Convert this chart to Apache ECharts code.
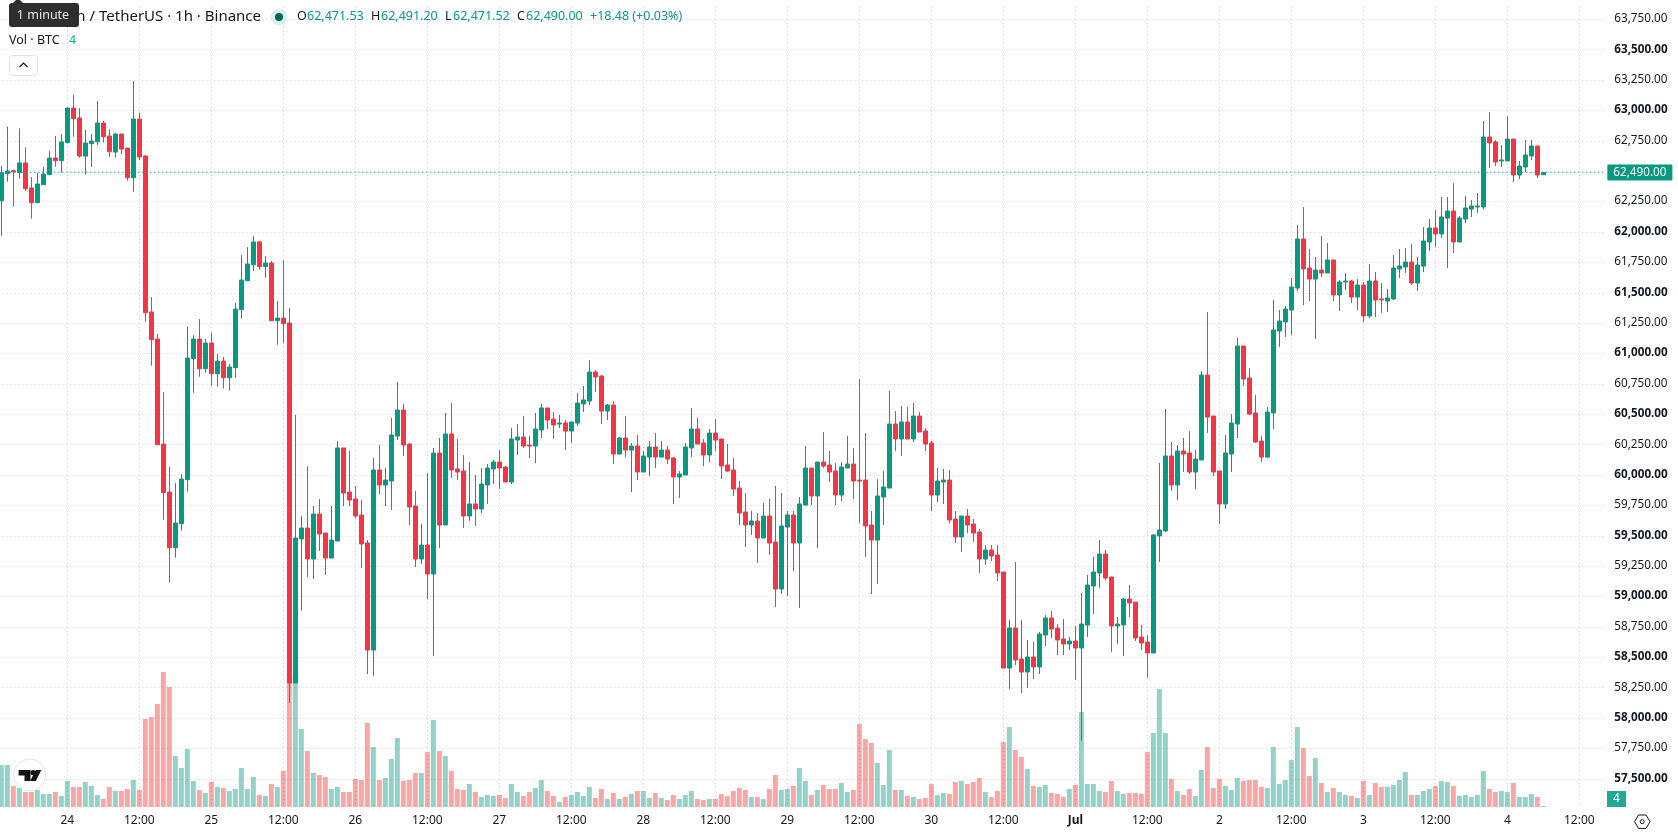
<!DOCTYPE html>
<html>
<head>
<meta charset="utf-8">
<title>Bitcoin / TetherUS · 1h · Binance</title>
<style>
  html, body { margin: 0; padding: 0; background: #fff; }
  #chart { width: 1678px; height: 835px; }
</style>
<script src="https://cdn.jsdelivr.net/npm/echarts@6/dist/echarts.min.js"></script>
</head>
<body>
<div id="chart"></div>
<script>
// Hourly BTC/USDT candles, oldest first.
const opens = [
62258,62480,62505,62488,62568,62362,62241,62389,62472,62609,
62587,62735,63020,62938,62625,62727,62743,62897,62790,62658,
62806,62691,62447,62930,62625,61342,61119,60255,59860,59402,
59600,59962,60958,61119,60875,61086,60834,60938,60801,60884,
61361,61599,61731,61918,61715,61745,61270,61292,61251,58289,
59474,59564,59309,59679,59523,59317,59457,60223,59860,59803,
59671,59441,58560,60042,59918,59951,60321,60535,60255,59745,
59309,59424,59186,60181,59589,60338,60050,60033,59663,59762,
59721,59918,60050,60107,60066,59943,60288,60313,60247,60239,
60371,60552,60461,60420,60428,60362,60428,60585,60609,60848,
60815,60527,60576,60173,60305,60206,60239,60025,60148,60231,
60148,60206,60140,59984,60000,60223,60379,60264,60165,60346,
60297,60083,60042,59893,59696,59589,59622,59482,59663,59449,
59062,59572,59671,59441,59753,60058,59828,60107,60083,60033,
59836,60058,60091,59959,59959,59589,59465,59819,59893,60420,
60297,60437,60297,60486,60363,60264,59836,59943,59959,59638,
59490,59663,59597,59531,59309,59383,59342,59202,58412,58741,
58486,58379,58503,58421,58684,58824,58741,58651,58610,58634,
58577,58766,59087,59194,59350,59161,58758,58766,58980,58955,
58667,58626,58536,59499,59540,60157,59918,60198,60182,60025,
60124,60823,60486,60033,59762,60173,60420,61062,60799,60511,
60280,60148,60511,61185,61260,61358,61539,61943,61704,61613,
61687,61663,61770,61482,61589,61597,61465,61564,61309,61597,
61449,61432,61449,61696,61712,61753,61580,61720,61918,62033,
61984,62115,62173,61918,62107,62189,62206,62206,62782,62741,
62585,62585,62765,62469,62535,62626,62708,62471.53];

const closes = [
62488,62502,62496,62568,62356,62241,62395,62477,62609,62587,
62741,63020,62933,62625,62732,62749,62897,62784,62661,62806,
62683,62447,62930,62617,61336,61114,60250,59855,59402,59605,
59967,60963,61119,60875,61086,60834,60938,60801,60889,61366,
61605,61737,61918,61715,61745,61270,61292,61246,58289,59482,
59564,59309,59679,59515,59317,59465,60223,59852,59795,59663,
59433,58560,60042,59918,59959,60330,60535,60247,59737,59309,
59424,59186,60181,59589,60338,60042,60025,59663,59762,59721,
59926,60058,60107,60058,59943,60297,60313,60239,60239,60379,
60552,60453,60412,60428,60362,60437,60593,60618,60848,60807,
60527,60576,60173,60305,60206,60239,60025,60157,60231,60148,
60206,60132,59984,60009,60231,60379,60255,60165,60346,60288,
60074,60033,59885,59688,59589,59622,59482,59663,59441,59062,
59581,59671,59441,59762,60058,59828,60107,60074,60025,59836,
60066,60091,59951,59951,59581,59465,59828,59902,60420,60297,
60437,60297,60486,60354,60256,59836,59951,59959,59630,59490,
59663,59589,59523,59309,59383,59334,59194,58412,58741,58478,
58379,58503,58421,58692,58824,58733,58643,58610,58634,58577,
58774,59095,59202,59350,59153,58758,58774,58980,58947,58659,
58618,58536,59507,59548,60157,59918,60198,60173,60025,60132,
60823,60478,60025,59762,60182,60428,61062,60790,60502,60272,
60148,60519,61194,61268,61366,61548,61943,61696,61613,61687,
61663,61770,61482,61589,61597,61465,61564,61309,61597,61441,
61441,61457,61704,61720,61753,61580,61729,61926,62033,61984,
62124,62173,61918,62115,62198,62214,62214,62782,62733,62576,
62593,62765,62469,62543,62634,62708,62469,62490];

const highs = [
62543,62867,62513,62853,62697,62452,62488,62535,62666,62790,
62806,63026,63127,63020,62839,62806,63078,62913,62845,62817,
62806,62691,63242,62982,62634,61465,61161,60683,60069,59934,
60008,61221,61150,61284,61119,61171,60996,60971,60914,61416,
61811,61876,61967,61926,61802,61761,61432,61769,61375,60494,
59663,60074,59745,59803,59523,59745,60280,60223,60198,59910,
59795,59465,60140,60247,60058,60470,60766,60585,60264,59869,
59597,60017,60223,60305,60511,60593,60297,60165,60107,60000,
60058,60091,60124,60206,60074,60387,60420,60486,60321,60511,
60585,60552,60519,60494,60453,60437,60675,60733,60947,60864,
60823,60585,60609,60313,60486,60264,60330,60198,60280,60346,
60280,60239,60148,60033,60264,60552,60469,60297,60379,60461,
60297,60255,60140,59951,59852,59704,59688,59770,59803,59910,
59852,59704,59704,59819,60239,60058,60107,60354,60198,60099,
60107,60321,60222,60790,60346,59704,59967,60033,60692,60527,
60568,60560,60593,60519,60387,60280,60058,60050,60042,59704,
59663,59721,59638,59556,59424,59424,59424,59202,58807,59285,
58807,58643,58626,58709,58848,58881,58774,58815,58667,58758,
59030,59178,59326,59466,59383,59161,58832,58988,59095,58955,
58766,58684,59515,60099,60544,60272,60247,60305,60363,60206,
60856,61342,60486,60033,60330,60502,61128,61062,60881,60659,
60321,60560,61441,61358,61391,61622,62058,62206,61860,61794,
61967,61910,61770,61605,61663,61605,61613,61589,61737,61671,
61580,61531,61811,61860,61868,61901,61794,62041,62107,62181,
62288,62288,62403,62132,62296,62263,62321,62914,62988,62757,
62716,62955,62765,62584,62757,62757,62708,62491.20];

const lows = [
61970,62414,62208,62439,62340,62110,62241,62389,62472,62538,
62488,62735,62784,62612,62472,62535,62716,62735,62620,62612,
62642,62422,62332,62592,61262,60900,60250,59633,59114,59320,
59542,59863,60678,60809,60842,60735,60727,60711,60694,60801,
61287,61599,61679,61690,61624,61270,61073,61089,58124,58289,
58884,59161,59145,59375,59177,59317,59457,59745,59745,59647,
59235,58363,58346,59844,59745,59712,60288,60157,59589,59243,
59268,58980,58511,59400,59589,59976,59959,59564,59622,59581,
59688,59762,59926,59885,59943,59926,60165,60223,60140,60099,
60305,60379,60297,60387,60206,60264,60404,60519,60576,60683,
60420,60453,60091,60173,60148,59860,59959,60025,59992,60058,
60148,60091,59762,59811,60000,60148,60255,60074,60107,60198,
59967,60025,59828,59589,59408,59507,59276,59482,59342,58914,
59021,59005,59210,58906,59753,59753,59400,60058,59943,59753,
59786,60058,59803,59605,59326,59021,59103,59589,59893,60198,
60157,60297,60272,60354,60198,59704,59778,59762,59606,59441,
59367,59523,59449,59194,59260,59293,59128,58412,58240,58437,
58207,58248,58322,58363,58593,58659,58519,58519,58560,58314,
57814,58667,58857,59071,59136,58544,58610,58511,58832,58634,
58560,58330,58536,59285,59531,59869,59795,60025,60009,59885,
60124,60346,59992,59597,59721,60025,60305,60733,60494,60264,
60107,60140,60379,61054,61136,61153,61515,61399,61432,61120,
61630,61663,61432,61350,61523,61416,61358,61259,61292,61301,
61334,61342,61441,61622,61663,61564,61515,61671,61844,61877,
61951,61704,61827,61918,62074,62124,62157,62189,62527,62543,
62535,62585,62412,62436,62494,62593,62445,62471.52];

// Traded volume per hour, in BTC.
const volumes = [
168,168,84,76,60,60,68,52,52,60,44,104,80,80,100,84,48,32,80,64,
64,72,108,68,352,360,412,540,480,204,156,232,104,68,56,100,80,76,64,72,
156,72,120,48,44,92,80,144,528,520,312,224,136,128,120,72,80,60,60,112,
108,336,240,108,116,192,276,104,108,136,136,220,348,224,204,144,72,68,92,60,
40,48,44,48,36,92,60,44,60,76,108,64,44,20,40,48,60,44,80,36,
72,32,56,32,40,52,64,64,36,56,36,28,48,32,48,64,32,28,32,32,
52,44,64,76,68,40,40,32,72,128,68,72,84,156,104,48,68,88,72,72,
96,60,68,332,272,256,176,88,228,68,68,44,40,32,36,92,48,56,52,100,
104,92,100,116,60,40,64,260,320,228,200,152,84,80,88,56,52,40,72,88,
380,92,92,64,60,104,64,52,56,56,52,220,296,472,296,112,64,48,72,44,
148,240,76,112,84,68,116,104,108,108,80,76,240,92,108,188,320,236,124,196,
96,60,76,60,48,44,36,104,48,96,80,80,88,108,140,48,48,64,72,84,
104,100,84,44,48,40,48,144,72,60,64,60,96,40,40,52,40,4];

// Labels along the time axis, one every twelve bars starting at the "24" bar.
const timeLabels = ['24','12:00','25','12:00','26','12:00','27','12:00','28','12:00','29','12:00',
  '30','12:00','Jul','12:00','2','12:00','3','12:00','4','12:00'];
const firstLabelBar = 11;
const barsPerLabel = 12;
const slotCount = 268; // visible bars plus the empty space on the right

const lastClose = closes[closes.length - 1];
const lastChange = '+18.48 (+0.03%)';

const UP = '#089981', DOWN = '#F23645';
const UP_VOL = 'rgba(8,153,129,0.44)', DOWN_VOL = 'rgba(236,48,42,0.42)';
const GRID = '#cdd0d6';
const DOTS = [1, 3];
const FONT = '"Noto Sans", sans-serif';
const TEXT = '#131722';

const categories = [];
for (let i = 0; i < slotCount; i++) {
  const t = (i - firstLabelBar) / barsPerLabel;
  categories.push(Number.isInteger(t) && t >= 0 && t < timeLabels.length ? timeLabels[t] : '');
}
const isLabelled = (i) => i >= firstLabelBar && (i - firstLabelBar) % barsPerLabel === 0;

const candles = opens.map((o, i) => [o, closes[i], lows[i], highs[i]]);
const volumeBars = volumes.map((v, i) => ({
  value: v,
  itemStyle: { color: closes[i] >= opens[i] ? UP_VOL : DOWN_VOL }
}));

const chart = echarts.init(document.getElementById('chart'), null, { renderer: 'canvas' });

const money = (v) => v.toLocaleString('en-US', { minimumFractionDigits: 2, maximumFractionDigits: 2 });

const headerText = (text, x, y, fill, size, align) => ({
  type: 'text', z: 50, silent: true,
  style: { text, x, y, fill, font: (size || 14) + 'px ' + FONT, verticalAlign: 'middle', align: align || 'left' }
});

const o = opens[opens.length - 1], c = lastClose, h = highs[highs.length - 1], l = lows[lows.length - 1];

const option = {
  animation: false,
  backgroundColor: '#ffffff',
  grid: [
    { left: -1.67, width: 1608, top: -11.02, height: 820.26, outerBoundsMode: 'none' },
    { left: -1.67, width: 1608, top: 7, height: 800, outerBoundsMode: 'none' }
  ],
  xAxis: [
    { type: 'category', gridIndex: 0, data: categories, show: false },
    {
      type: 'category', gridIndex: 1, data: categories,
      axisLine: { show: false }, axisTick: { show: false },
      axisLabel: {
        interval: (i) => isLabelled(i), margin: 8, fontSize: 12, color: TEXT, fontFamily: FONT,
        hideOverlap: false,
        formatter: (v) => v === 'Jul' ? '{b|Jul}' : v,
        rich: { b: { fontWeight: 700, fontSize: 12, color: TEXT, fontFamily: FONT } }
      },
      splitLine: {
        show: true, alignWithLabel: true, interval: (i) => isLabelled(i),
        lineStyle: { color: GRID, type: DOTS, width: 1 }
      }
    }
  ],
  yAxis: [
    {
      type: 'value', gridIndex: 0, position: 'right', min: 57250, max: 64000, interval: 250,
      axisLine: { show: false }, axisTick: { show: false },
      axisLabel: {
        margin: 8, fontSize: 11.7, color: TEXT, fontFamily: FONT, padding: [0, 0, 1, 0],
        formatter: (v) => {
          if (v <= 57250 || v >= 64000 || Math.abs(v - lastClose) < 60) return '';
          return v % 500 === 0 ? '{b|' + money(v) + '}' : money(v);
        },
        rich: { b: { fontWeight: 700, fontSize: 11.7, color: TEXT, fontFamily: FONT } }
      },
      splitLine: { show: true, showMinLine: false, showMaxLine: false, lineStyle: { color: GRID, type: DOTS, width: 1 } }
    },
    { type: 'value', gridIndex: 1, min: 0, max: 3200, show: false }
  ],
  series: [
    {
      name: 'Vol', type: 'bar', xAxisIndex: 1, yAxisIndex: 1, data: volumeBars,
      barWidth: 5, z: 1, silent: true
    },
    {
      name: 'BTC/USDT', type: 'candlestick', xAxisIndex: 0, yAxisIndex: 0, data: candles,
      barWidth: 4, z: 3, silent: true,
      itemStyle: { color: UP, color0: DOWN, borderColor: UP, borderColor0: DOWN, borderWidth: 1 },
      markLine: {
        silent: true, symbol: 'none', z: 4, animation: false,
        lineStyle: { color: UP, type: DOTS, width: 1 },
        label: {
          position: 'end', distance: 1, formatter: () => money(lastClose),
          color: '#fff', backgroundColor: UP, fontSize: 11.7, fontFamily: FONT,
          padding: [2, 6, 2, 6], borderRadius: 1
        },
        data: [{ yAxis: lastClose }]
      }
    }
  ],
  graphic: [
    // legend line
    headerText('Bitcoin / TetherUS · 1h · Binance', 261, 16.5, TEXT, 15, 'right'),
    { type: 'circle', z: 50, silent: true, shape: { cx: 279, cy: 17, r: 8.5 }, style: { fill: '#dcefeb' } },
    { type: 'circle', z: 51, silent: true, shape: { cx: 279, cy: 17, r: 4 }, style: { fill: '#056656' } },
    headerText('O', 297, 16.5, TEXT, 12.5),
    headerText(money(o), 307, 16.5, UP, 12.5),
    headerText('H', 371, 16.5, TEXT, 12.5),
    headerText(money(h), 381, 16.5, UP, 12.5),
    headerText('L', 445, 16.5, TEXT, 12.5),
    headerText(money(l), 453, 16.5, UP, 12.5),
    headerText('C', 517, 16.5, TEXT, 12.5),
    headerText(money(c), 526, 16.5, UP, 12.5),
    headerText(lastChange, 590, 16.5, UP, 12.5),
    headerText('Vol · BTC', 9, 40.5, TEXT, 12.5),
    headerText(String(volumes[volumes.length - 1]), 69, 40.5, '#22ab94', 12.5),

    // hovering hint over the symbol name
    { type: 'rect', z: 60, silent: true, shape: { x: 9, y: 3, width: 70, height: 24, r: 3 }, style: { fill: '#2e2e2e' } },
    { type: 'polygon', z: 60, silent: true, shape: { points: [[13, 3], [18, -2], [23, 3]] }, style: { fill: '#2e2e2e' } },
    { type: 'text', z: 61, silent: true, style: { text: '1 minute', x: 43, y: 15.5, fill: '#e8e8e8', font: '12.5px ' + FONT, align: 'center', verticalAlign: 'middle' } },

    // collapse button
    { type: 'rect', z: 50, silent: true, shape: { x: 9.5, y: 55.5, width: 28, height: 20, r: 3 }, style: { fill: '#fff', stroke: '#e0e3eb', lineWidth: 1 } },
    { type: 'polyline', z: 51, silent: true, shape: { points: [[19.5, 67], [23.5, 63], [27.5, 67]] }, style: { stroke: '#131722', lineWidth: 1.2, fill: 'none' } },

    // volume value tag on the scale
    { type: 'rect', z: 50, silent: true, shape: { x: 1607, y: 791, width: 19, height: 16 }, style: { fill: '#22a896' } },
    { type: 'text', z: 51, silent: true, style: { text: String(volumes[volumes.length - 1]), x: 1616.5, y: 799, fill: '#fff', font: '12px ' + FONT, align: 'center', verticalAlign: 'middle' } },

    // logo badge
    { type: 'circle', z: 50, silent: true, shape: { cx: 29.6, cy: 775, r: 16 }, style: { fill: '#fff', stroke: '#e4e4e4', lineWidth: 1 } },
    { type: 'polygon', z: 51, silent: true, shape: { points: [[18.6, 770], [30.5, 770], [30.5, 781], [24.5, 781], [24.5, 775.5], [18.6, 775.5]] }, style: { fill: '#131313' } },
    { type: 'circle', z: 51, silent: true, shape: { cx: 33, cy: 772.6, r: 2.6 }, style: { fill: '#131313' } },
    { type: 'polygon', z: 51, silent: true, shape: { points: [[35.7, 770], [41.3, 770], [35.8, 781], [30.2, 781]] }, style: { fill: '#131313' } },

    // scale settings icon
    { type: 'polygon', z: 50, silent: true, shape: { points: [[1634.5, 821.7], [1638.5, 815], [1646, 815], [1650, 821.7], [1646, 828.4], [1638.5, 828.4]] }, style: { fill: 'none', stroke: '#131722', lineWidth: 1 } },
    { type: 'circle', z: 50, silent: true, shape: { cx: 1642.2, cy: 821.7, r: 2 }, style: { fill: 'none', stroke: '#131722', lineWidth: 1 } }
  ]
};

chart.setOption(option);
</script>
</body>
</html>
